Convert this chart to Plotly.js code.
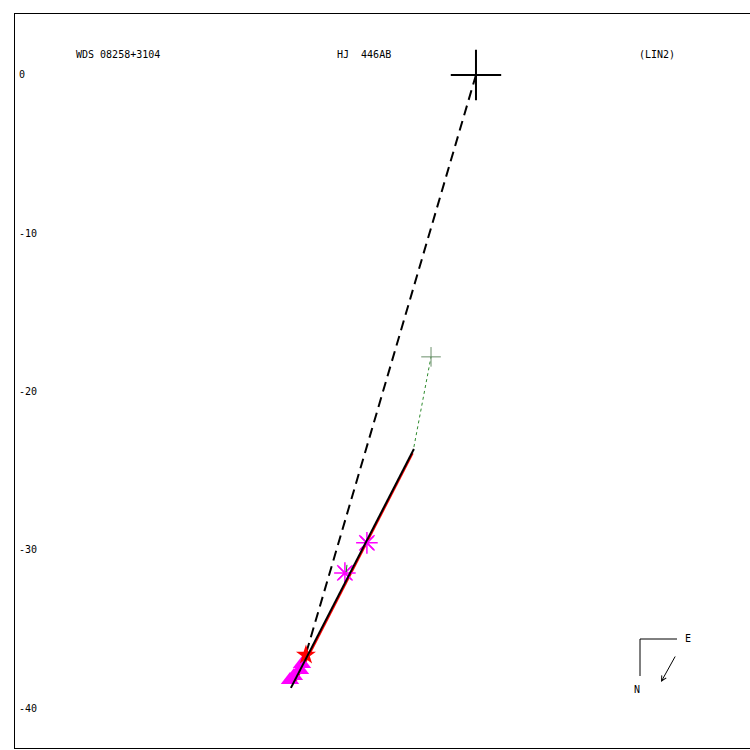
<!DOCTYPE html>
<html><head><meta charset="utf-8">
<script src="https://cdn.plot.ly/plotly-3.0.1.min.js"></script>
<style>body{margin:0;background:#fff}</style>
</head><body><div id="chart" style="width:750px;height:750px"></div>
<script>
// Data (relative position in arcsec-like units)
const primaryX = [0], primaryY = [0];
const dashX = [0, -10.8], dashY = [0, -36.77];
const fitX = [-11.69, -3.92], fitY = [-38.72, -23.63];
const redX = [-11.4, -4.0], redY = [-38.3, -23.9];
const dotX = [-3.92, -2.84], dotY = [-23.5, -17.81];
const predX = [-2.84], predY = [-17.81];
const astX = [-8.28, -6.89], astY = [-31.46, -29.56];
const residX = [-8.15, -8.2], residY = [-30.95, -31.4];
const starX = [-10.74], starY = [-36.64];
const triX = [-11.75, -11.5, -11.12, -10.99], triY = [-38.22, -37.97, -37.59, -37.21];
const yTicks = [0, -10, -20, -30, -40];
const yTickText = ["0", "-10", "-20", "-30", "-40"];

const traces = [
  {x: redX, y: redY, mode: 'lines', line: {color: '#ff0000', width: 2}},
  {x: dotX, y: dotY, mode: 'lines', line: {color: '#2e8b2e', width: 1, dash: 'dot'}},
  {x: predX, y: predY, mode: 'markers', marker: {symbol: 'cross-thin-open', size: 14, color: '#6a8f6a', line: {color: '#6a8f6a', width: 1}}},
  {x: dashX, y: dashY, mode: 'lines', line: {color: '#000', width: 2, dash: '10px,6px'}},
  {x: triX, y: triY, mode: 'markers', marker: {symbol: 'triangle-up', size: 16, color: '#ff00ff'}},
  {x: starX, y: starY, mode: 'markers', marker: {symbol: 'star', size: 15, color: '#ff0000'}},
  {x: astX, y: astY, mode: 'markers', marker: {symbol: 'asterisk-open', size: 18, color: '#ff00ff', line: {color: '#ff00ff', width: 1.5}}},
  {x: astX, y: astY, mode: 'markers', marker: {symbol: 'x-thin-open', size: 13, color: '#ff00ff', line: {color: '#ff00ff', width: 1.5}}},
  {x: residX, y: residY, mode: 'lines', line: {color: '#00a000', width: 1}},
  {x: fitX, y: fitY, mode: 'lines', line: {color: '#000', width: 2}},
  {x: primaryX, y: primaryY, mode: 'markers', marker: {symbol: 'cross-thin-open', size: 36, color: '#000', line: {color: '#000', width: 2}}}
];

const mono = {family: 'DejaVu Sans Mono, monospace', size: 10, color: '#000'};
const layout = {
  width: 750, height: 750,
  margin: {l: 15, r: 0, t: 14, b: 2},
  showlegend: false,
  paper_bgcolor: '#fff', plot_bgcolor: '#fff',
  xaxis: {range: [-29.12, 17.31], showgrid: false, zeroline: false, showticklabels: false,
          showline: true, mirror: true, linecolor: '#000', linewidth: 1, ticks: ''},
  yaxis: {range: [-42.52, 3.85], showgrid: false, zeroline: false, showline: true, linecolor: '#000', linewidth: 1,
          tickvals: yTicks, ticktext: yTickText, ticklabelposition: 'inside', ticklabelstandoff: 3, ticks: '', tickfont: mono},
  annotations: [
    {xref: 'paper', yref: 'paper', x: (74-15)/735, y: (748-55)/734, text: 'WDS 08258+3104', showarrow: false, xanchor: 'left', yanchor: 'middle', font: mono},
    {xref: 'paper', yref: 'paper', x: (335-15)/735, y: (748-55)/734, text: 'HJ  446AB', showarrow: false, xanchor: 'left', yanchor: 'middle', font: mono},
    {xref: 'paper', yref: 'paper', x: (637-15)/735, y: (748-55)/734, text: '(LIN2)', showarrow: false, xanchor: 'left', yanchor: 'middle', font: mono},
    {xref: 'paper', yref: 'paper', x: (688-15)/735, y: (748-638)/734, text: 'E', showarrow: false, xanchor: 'center', yanchor: 'middle', font: mono},
    {xref: 'paper', yref: 'paper', x: (637-15)/735, y: (748-689)/734, text: 'N', showarrow: false, xanchor: 'center', yanchor: 'middle', font: mono},
    {xref: 'paper', yref: 'paper', x: (661-15)/735, y: (748-682)/734, ax: 676-661, ay: 655-682, axref: 'pixel', ayref: 'pixel',
     text: '', showarrow: true, arrowhead: 5, arrowsize: 1, arrowwidth: 1, arrowcolor: '#000'}
  ],
  shapes: [
    {type: 'line', xref: 'paper', yref: 'paper', x0: (640-15)/735, y0: (748-639)/734, x1: (677-15)/735, y1: (748-639)/734, line: {color: '#000', width: 1}},
    {type: 'line', xref: 'paper', yref: 'paper', x0: (640-15)/735, y0: (748-639)/734, x1: (640-15)/735, y1: (748-676)/734, line: {color: '#000', width: 1}}
  ]
};
Plotly.newPlot('chart', traces, layout, {displayModeBar: false, staticPlot: true});
</script></body></html>
